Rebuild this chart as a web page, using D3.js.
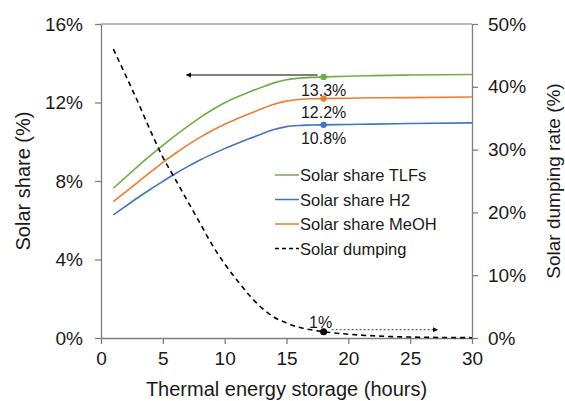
<!DOCTYPE html>
<html>
<head>
<meta charset="utf-8">
<script src="https://cdn.jsdelivr.net/npm/d3@7"></script>
<style>
  body { margin: 0; background: #fff; }
  text { font-family: "Liberation Sans", Arial, sans-serif; fill: #1a1a1a; }
</style>
</head>
<body>
<svg id="chart"></svg>
<script>
var hours     = [1, 2, 3, 4, 5, 6, 7, 8, 9, 10, 11, 12, 13, 14, 15, 16, 17, 18, 20, 22, 25, 30];
var shareTLF  = [7.63, 8.2, 8.76, 9.3, 9.82, 10.31, 10.78, 11.23, 11.63, 11.99, 12.28, 12.54, 12.78, 13.0, 13.16, 13.24, 13.28, 13.3, 13.34, 13.37, 13.4, 13.43];
var shareH2   = [6.27, 6.72, 7.16, 7.58, 7.98, 8.37, 8.73, 9.07, 9.37, 9.65, 9.91, 10.16, 10.4, 10.62, 10.77, 10.83, 10.85, 10.86, 10.88, 10.9, 10.93, 10.96];
var shareMeOH = [6.95, 7.45, 7.95, 8.45, 8.95, 9.4, 9.83, 10.22, 10.57, 10.89, 11.17, 11.43, 11.68, 11.91, 12.07, 12.15, 12.19, 12.2, 12.22, 12.24, 12.25, 12.28];
var dumping   = [46.0, 41.8, 37.5, 33.0, 28.8, 25.3, 21.8, 18.3, 14.8, 11.8, 9.2, 6.8, 4.8, 3.3, 2.4, 1.7, 1.3, 1.0, 0.6, 0.35, 0.15, 0.05];

var xTicks = [0, 5, 10, 15, 20, 25, 30];
var leftTicks = [0, 4, 8, 12, 16];
var rightTicks = [0, 10, 20, 30, 40, 50];

var markHour = 18;
// labels in the same order as the series below (TLFs, H2, MeOH)
var markLabels = ["13.3%", "10.8%", "12.2%"];
var dumpLabel = "1%";

var series = [
  {name: "Solar share TLFs", values: shareTLF, color: "#70AD47"},
  {name: "Solar share H2", values: shareH2, color: "#4472C4"},
  {name: "Solar share MeOH", values: shareMeOH, color: "#ED7D31"}
];

var width = 565, height = 401;
var margin = {top: 24, right: 93, bottom: 63, left: 101};

var svg = d3.select("#chart").attr("width", width).attr("height", height);

var x = d3.scaleLinear().domain([0, 30]).range([margin.left, width - margin.right]);
var yL = d3.scaleLinear().domain([0, 16]).range([height - margin.bottom, margin.top]);
var yR = d3.scaleLinear().domain([0, 50]).range([height - margin.bottom, margin.top]);

// top border
svg.append("line")
  .attr("x1", x(0)).attr("x2", x(30))
  .attr("y1", yL(16)).attr("y2", yL(16))
  .attr("stroke", "#a6a6a6").attr("stroke-width", 1.5);

var xAxis = svg.append("g")
  .attr("transform", "translate(0," + yL(0) + ")")
  .call(d3.axisBottom(x).tickValues(xTicks).tickSize(6).tickSizeOuter(0).tickPadding(8));

var leftAxis = svg.append("g")
  .attr("transform", "translate(" + x(0) + ",0)")
  .call(d3.axisLeft(yL).tickValues(leftTicks).tickSize(6).tickSizeOuter(0).tickPadding(12)
    .tickFormat(function(d){ return d + "%"; }));

var rightAxis = svg.append("g")
  .attr("transform", "translate(" + x(30) + ",0)")
  .call(d3.axisRight(yR).tickValues(rightTicks).tickSize(6).tickSizeOuter(0).tickPadding(10)
    .tickFormat(function(d){ return d + "%"; }));

[xAxis, leftAxis, rightAxis].forEach(function(g){
  g.select(".domain").attr("stroke", "#7f7f7f").attr("stroke-width", 1.3);
  g.selectAll(".tick line").attr("stroke", "#7f7f7f").attr("stroke-width", 1.3);
  g.selectAll(".tick text").attr("font-size", 19).attr("fill", "#1a1a1a")
    .style("font-family", "'Liberation Sans', Arial, sans-serif");
});

// axis titles
svg.append("text")
  .attr("x", (x(0) + x(30)) / 2).attr("y", 396)
  .attr("text-anchor", "middle").attr("font-size", 20)
  .text("Thermal energy storage (hours)");

svg.append("text")
  .attr("transform", "translate(30," + yL(8) + ") rotate(-90)")
  .attr("text-anchor", "middle").attr("font-size", 20)
  .text("Solar share (%)");

svg.append("text")
  .attr("transform", "translate(560," + yL(8) + ") rotate(-90)")
  .attr("text-anchor", "middle").attr("font-size", 19)
  .text("Solar dumping rate (%)");

// lines
var lineL = d3.line()
  .x(function(d, i){ return x(hours[i]); })
  .y(function(d){ return yL(d); })
  .curve(d3.curveMonotoneX);

var lineR = d3.line()
  .x(function(d, i){ return x(hours[i]); })
  .y(function(d){ return yR(d); })
  .curve(d3.curveMonotoneX);

series.forEach(function(s){
  svg.append("path")
    .attr("d", lineL(s.values))
    .attr("fill", "none")
    .attr("stroke", s.color)
    .attr("stroke-width", 1.6);
});

svg.append("path")
  .attr("d", lineR(dumping))
  .attr("fill", "none")
  .attr("stroke", "#000")
  .attr("stroke-width", 1.6)
  .attr("stroke-dasharray", "5,4");

// arrows
var defs = svg.append("defs");
defs.append("marker")
  .attr("id", "head").attr("viewBox", "0 0 10 10")
  .attr("refX", 9).attr("refY", 5)
  .attr("markerWidth", 4).attr("markerHeight", 4)
  .attr("orient", "auto-start-reverse")
  .append("path").attr("d", "M0,0L10,5L0,10z").attr("fill", "#000");

var mi = hours.indexOf(markHour);

svg.append("line")
  .attr("x1", x(markHour) - 6).attr("x2", x(6.9))
  .attr("y1", yL(shareTLF[mi]) - 2).attr("y2", yL(shareTLF[mi]) - 2)
  .attr("stroke", "#555").attr("stroke-width", 1.3)
  .attr("marker-end", "url(#head)");

svg.append("line")
  .attr("x1", x(markHour) + 8).attr("x2", x(27.2))
  .attr("y1", yR(dumping[mi]) - 2).attr("y2", yR(dumping[mi]) - 2)
  .attr("stroke", "#666").attr("stroke-width", 1.3)
  .attr("stroke-dasharray", "2,2")
  .attr("marker-end", "url(#head)");

// markers and labels at 18 h
series.forEach(function(s, k){
  var cy = yL(s.values[mi]);
  svg.append("circle")
    .attr("cx", x(markHour)).attr("cy", cy).attr("r", 3.2)
    .attr("fill", s.color);
  svg.append("text")
    .attr("x", x(markHour)).attr("y", cy + 19)
    .attr("text-anchor", "middle").attr("font-size", 16)
    .text(markLabels[k]);
});

svg.append("circle")
  .attr("cx", x(markHour)).attr("cy", yR(dumping[mi])).attr("r", 3.5)
  .attr("fill", "#000");
svg.append("text")
  .attr("x", x(markHour) - 3).attr("y", yR(dumping[mi]) - 4)
  .attr("text-anchor", "middle").attr("font-size", 16)
  .text(dumpLabel);

// legend
var legendItems = series.concat([{name: "Solar dumping", color: "#000", dash: "4,3"}]);
var legend = svg.append("g").attr("transform", "translate(275,175)");
legendItems.forEach(function(s, i){
  var g = legend.append("g").attr("transform", "translate(0," + (i * 24.5) + ")");
  g.append("line")
    .attr("x1", 0).attr("x2", 24).attr("y1", 0).attr("y2", 0)
    .attr("stroke", s.color).attr("stroke-width", 1.5)
    .attr("stroke-dasharray", s.dash || null);
  g.append("text")
    .attr("x", 25).attr("y", 6)
    .attr("font-size", 16.5)
    .text(s.name);
});
</script>
</body>
</html>
